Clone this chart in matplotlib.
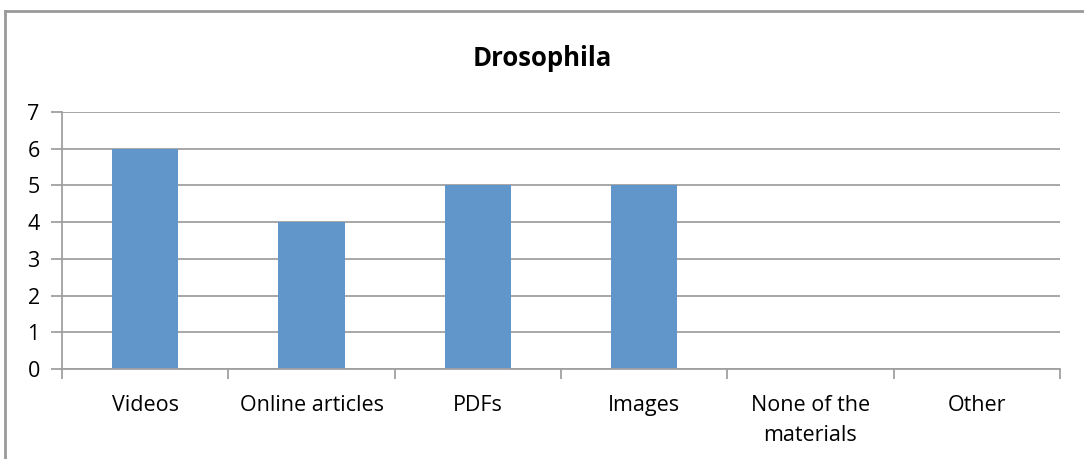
import matplotlib.pyplot as plt
from matplotlib.lines import Line2D

categories = ['Videos', 'Online articles', 'PDFs', 'Images', 'None of the\nmaterials', 'Other']
counts = [6, 4, 5, 5, 0, 0]

plt.rcParams['font.family'] = ['Open Sans', 'DejaVu Sans']

fig = plt.figure(figsize=(10.84, 4.59), dpi=100)
ax = fig.add_axes([62/1084, 1-369/459, (1060-62)/1084, (369-112)/459])

x = list(range(len(categories)))
ax.bar(x, counts, width=0.4, color='#6096CA', zorder=3)

ax.set_xlim(-0.5, len(categories)-0.5)
ax.set_ylim(0, 7)
ax.set_yticks(range(0, 8))
ax.yaxis.grid(True, color='#A0A0A0', linewidth=1.3, zorder=0)

# tick marks on category boundaries, labels centred
ax.set_xticks([i - 0.5 for i in range(len(categories)+1)])
ax.set_xticklabels([])
ax.set_xticks(x, minor=True)
ax.set_xticklabels(categories, minor=True, fontsize=15.5, linespacing=1.55)
ax.tick_params(axis='x', which='minor', length=0, pad=19)
ax.tick_params(axis='x', which='major', length=7, color='#A0A0A0', width=1.3)
ax.tick_params(axis='y', length=8, color='#A0A0A0', width=1.3, labelsize=15.5, pad=8)

for s in ['top', 'right']:
    ax.spines[s].set_visible(False)
for s in ['left', 'bottom']:
    ax.spines[s].set_color('#A0A0A0')
    ax.spines[s].set_linewidth(1.3)
ax.spines['bottom'].set_zorder(4)

fig.text(0.5, 1-58/459, 'Drosophila', ha='center', va='center', fontsize=18.5, fontweight='bold')

# chart area border (top and left visible)
fig.add_artist(Line2D([4.5/1084, 4.5/1084], [0, 1-10.5/459], color='#999999', linewidth=2, transform=fig.transFigure))
fig.add_artist(Line2D([4.5/1084, 1], [1-10.5/459, 1-10.5/459], color='#999999', linewidth=2, transform=fig.transFigure))

fig.savefig('out.png', dpi=100)
